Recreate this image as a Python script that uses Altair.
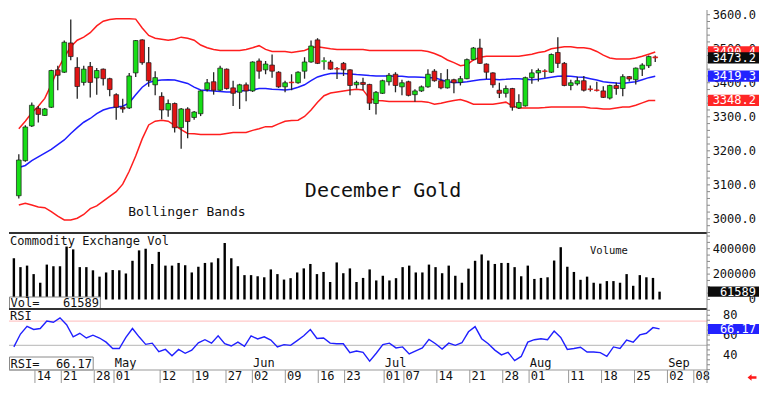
import altair as alt
import pandas as pd

# ---------------- data ----------------
open_ = [3068, 3171, 3273, 3325, 3304, 3328, 3438, 3431, 3517, 3445,
         3401, 3448, 3414, 3440, 3412, 3365, 3328, 3326, 3429, 3526,
         3459, 3394, 3360, 3320, 3339, 3268, 3323, 3298, 3309, 3380,
         3403, 3378, 3440, 3385, 3372, 3394, 3376, 3464, 3438, 3452,
         3431, 3388, 3402, 3400, 3434, 3461, 3526, 3462, 3461, 3442,
         3457, 3438, 3394, 3401, 3395, 3339, 3369, 3403, 3425, 3388,
         3403, 3365, 3376, 3388, 3434, 3406, 3385, 3409, 3401, 3412,
         3468, 3502, 3455, 3429, 3378, 3369, 3383, 3326, 3332, 3415,
         3429, 3435, 3431, 3489, 3457, 3392, 3397, 3406, 3382, 3379,
         3376, 3355, 3392, 3383, 3418, 3409, 3440, 3450, 3476]
high = [3190, 3275, 3342, 3332, 3326, 3438, 3450, 3524, 3586, 3475,
        3450, 3461, 3443, 3442, 3415, 3369, 3353, 3429, 3526, 3528,
        3505, 3434, 3372, 3351, 3342, 3326, 3328, 3317, 3378, 3411,
        3431, 3450, 3442, 3406, 3397, 3401, 3463, 3471, 3464, 3483,
        3434, 3406, 3425, 3434, 3475, 3524, 3531, 3475, 3467, 3446,
        3461, 3440, 3406, 3415, 3397, 3376, 3409, 3429, 3431, 3409,
        3406, 3381, 3392, 3440, 3440, 3429, 3440, 3412, 3420, 3471,
        3505, 3529, 3457, 3431, 3400, 3392, 3385, 3366, 3418, 3440,
        3442, 3440, 3486, 3534, 3461, 3409, 3418, 3420, 3392, 3403,
        3390, 3394, 3401, 3425, 3420, 3445, 3457, 3480, 3480]
low = [3060, 3168, 3270, 3283, 3302, 3326, 3378, 3429, 3466, 3353,
       3392, 3357, 3365, 3392, 3360, 3291, 3312, 3323, 3417, 3453,
       3388, 3363, 3293, 3300, 3254, 3206, 3237, 3291, 3302, 3374,
       3365, 3376, 3380, 3332, 3323, 3346, 3373, 3412, 3425, 3415,
       3385, 3372, 3378, 3397, 3412, 3459, 3455, 3438, 3438, 3411,
       3420, 3363, 3383, 3378, 3320, 3307, 3367, 3392, 3372, 3363,
       3360, 3344, 3373, 3385, 3403, 3381, 3383, 3369, 3392, 3410,
       3466, 3455, 3411, 3385, 3355, 3357, 3318, 3323, 3330, 3397,
       3404, 3415, 3429, 3443, 3390, 3378, 3392, 3374, 3374, 3374,
       3355, 3351, 3365, 3360, 3404, 3395, 3420, 3443, 3461]
close = [3173, 3270, 3334, 3307, 3323, 3436, 3422, 3519, 3477, 3389,
         3440, 3401, 3436, 3412, 3380, 3328, 3323, 3420, 3524, 3459,
         3406, 3415, 3320, 3339, 3268, 3323, 3286, 3314, 3376, 3400,
         3378, 3443, 3383, 3369, 3394, 3376, 3461, 3434, 3455, 3434,
         3388, 3400, 3400, 3431, 3461, 3508, 3457, 3465, 3440, 3440,
         3438, 3392, 3401, 3395, 3340, 3372, 3406, 3422, 3392, 3400,
         3363, 3376, 3388, 3425, 3406, 3385, 3409, 3400, 3412, 3468,
         3502, 3457, 3431, 3394, 3369, 3383, 3328, 3342, 3415, 3429,
         3436, 3433, 3483, 3457, 3392, 3400, 3406, 3378, 3380, 3377,
         3357, 3392, 3383, 3418, 3411, 3443, 3452, 3477, 3473.2]
volume = [325000, 255000, 267000, 200000, 132000, 275000, 262000, 262000, 417000, 395000,
          255000, 255000, 230000, 180000, 213000, 232000, 230000, 205000, 305000, 387000,
          400000, 280000, 375000, 267000, 267000, 288000, 270000, 213000, 258000, 288000,
          292000, 325000, 445000, 325000, 262000, 192000, 192000, 183000, 175000, 237000,
          200000, 157000, 168000, 213000, 245000, 280000, 200000, 217000, 138000, 292000,
          207000, 245000, 138000, 170000, 237000, 150000, 187000, 150000, 168000, 255000,
          267000, 213000, 213000, 275000, 255000, 207000, 267000, 187000, 132000, 243000,
          305000, 355000, 307000, 280000, 288000, 288000, 255000, 183000, 267000, 162000,
          170000, 175000, 307000, 412000, 258000, 217000, 155000, 180000, 132000, 125000,
          145000, 145000, 132000, 200000, 108000, 192000, 175000, 170000, 61589]
rsi = [48, 61, 68.8, 65.6, 66.6, 74.2, 72.9, 77.4, 70.4, 58.2,
       61.8, 57, 59.9, 57, 52.8, 46.4, 46.4, 57.6, 66.6, 58.2,
       50.6, 51.8, 43.2, 45.5, 39, 45.5, 41.6, 44.8, 52.2, 55.3,
       51.8, 59.2, 51.2, 48.9, 52.8, 48.6, 59.2, 56, 58.2, 55,
       48, 50.3, 49.6, 54.4, 59.2, 65.6, 56.6, 57, 51.8, 51.2,
       51.2, 42.2, 43.8, 42.6, 33.6, 41.6, 50.4, 51.8, 47, 48,
       41, 44.1, 47, 55.6, 51.2, 45.8, 51.8, 49.6, 52.2, 63.3,
       68.5, 56.3, 51.2, 44.8, 40, 42.6, 34.2, 38.4, 52.8, 55.3,
       56.3, 55.3, 64, 57.6, 45.5, 46.4, 47.7, 42.9, 42.9, 42.2,
       38.4, 48, 46.4, 55, 52.8, 60.1, 61.8, 67.5, 66.17]
bb_upper = [3265, 3287, 3312, 3331, 3354, 3395, 3439, 3475, 3506, 3525,
            3534, 3547, 3567, 3581, 3586, 3588, 3588, 3588, 3587, 3561,
            3539, 3531, 3528, 3525, 3528, 3534, 3531, 3525, 3511, 3503,
            3498, 3495, 3495, 3495, 3495, 3498, 3503, 3509, 3498, 3492,
            3492, 3492, 3489, 3492, 3495, 3503, 3506, 3503, 3500, 3498,
            3498, 3498, 3498, 3498, 3495, 3495, 3495, 3495, 3495, 3495,
            3495, 3495, 3495, 3492, 3486, 3478, 3467, 3459, 3450, 3453,
            3467, 3475, 3478, 3478, 3478, 3478, 3478, 3478, 3481, 3484,
            3489, 3492, 3500, 3503, 3506, 3506, 3503, 3503, 3500, 3492,
            3481, 3473, 3470, 3470, 3470, 3473, 3478, 3484, 3490.4]
bb_mid = [3151, 3157, 3171, 3182, 3193, 3204, 3218, 3232, 3251, 3268,
          3284, 3295, 3309, 3320, 3326, 3329, 3331, 3341, 3365, 3387,
          3401, 3406, 3408, 3409, 3408, 3403, 3398, 3387, 3379, 3377,
          3376, 3374, 3373, 3373, 3376, 3377, 3379, 3383, 3383, 3381,
          3380, 3379, 3381, 3387, 3394, 3406, 3417, 3423, 3427, 3428,
          3427, 3426, 3424, 3423, 3421, 3420, 3420, 3420, 3419, 3419,
          3417, 3417, 3416, 3415, 3415, 3409, 3403, 3401, 3401, 3403,
          3406, 3409, 3410, 3410, 3409, 3410, 3412, 3412, 3410, 3409,
          3410, 3413, 3416, 3419, 3420, 3419, 3417, 3416, 3412, 3408,
          3403, 3401, 3399, 3398, 3401, 3403, 3409, 3415, 3419.3]
bb_lower = [3041, 3046, 3041, 3035, 3033, 3021, 3008, 2997, 2997, 3002,
            3013, 3030, 3038, 3052, 3066, 3080, 3102, 3140, 3185, 3235,
            3276, 3287, 3290, 3287, 3275, 3262, 3251, 3250, 3248, 3248,
            3248, 3248, 3251, 3254, 3254, 3254, 3260, 3265, 3271, 3271,
            3279, 3287, 3289, 3290, 3301, 3320, 3343, 3362, 3370, 3373,
            3376, 3379, 3381, 3379, 3354, 3348, 3347, 3345, 3345, 3345,
            3345, 3345, 3345, 3343, 3337, 3340, 3344, 3348, 3351, 3345,
            3337, 3337, 3337, 3337, 3340, 3343, 3332, 3326, 3326, 3326,
            3326, 3327, 3329, 3329, 3329, 3329, 3329, 3329, 3326, 3325,
            3323, 3323, 3326, 3329, 3329, 3334, 3341, 3348, 3348.2]

tick_pos = [3, 7, 12, 15, 22, 27, 32, 36, 41, 46, 50, 56, 59, 64, 69, 74, 78, 84, 89, 94, 99, 103]
tick_lbl = ["14", "21", "28", "01", "12", "19", "27", "02", "09", "16", "23",
            "01", "07", "14", "21", "28", "01", "11", "18", "25", "02", "08"]
month_pos = [15, 36, 56, 78, 99]
month_lbl = ["May", "Jun", "Jul", "Aug", "Sep"]
price_ticks = list(range(2960, 3601, 20))
price_labels = [3000, 3100, 3200, 3300, 3400, 3500, 3600]
vol_ticks = list(range(0, 500001, 50000))
vol_labels = [0, 200000, 400000]
rsi_ticks = list(range(25, 86, 5))
rsi_labels = [40, 60, 80]
rsi_levels = [74, 49.5]

# ---------------- layout / style ----------------
W, H1, H2, H3 = 698, 223, 76, 61
MONO = "DejaVu Sans Mono"
AXC = "#8a8a8a"
X_DOM = [-0.74, 105.2]
P_DOM = [2958.5, 3613.8]
V_DOM = [-75000, 524000]
R_DOM = [24.7, 86.3]
GREEN, RED = "#17dd17", "#e01414"
BAND_RED, BAND_BLUE = "#ff1e1e", "#1e1eff"
BOX_RED, BOX_BLUE, BOX_BLACK = "#ff2626", "#2222ff", "#0c0c0c"

n = len(close)
df = pd.DataFrame({"i": list(range(n)), "o": open_, "h": high, "l": low, "c": close,
                   "v": volume, "rsi": rsi, "bu": bb_upper, "bm": bb_mid, "bl": bb_lower})
df["fill"] = [GREEN if c >= o else RED for o, c in zip(open_, close)]
df["edge"] = [f if abs(c - o) < 4 else "#1a1a1a" for f, o, c in zip(df["fill"], open_, close)]

xsc = alt.Scale(domain=X_DOM, nice=False, zero=False)
psc = alt.Scale(domain=P_DOM, nice=False, zero=False)
vsc = alt.Scale(domain=V_DOM, nice=False, zero=False)
rsc = alt.Scale(domain=R_DOM, nice=False, zero=False)
one = pd.DataFrame({"z": [0]})
XN = alt.X("i:Q", scale=xsc, axis=None)


def right_axis(ticks, labels, fmt, sc, h, align, lx, ext=0):
    dom = alt.Chart(one).mark_rule(color=AXC, strokeWidth=1).encode(
        x=alt.value(W), y=alt.value(0), y2=alt.value(h + ext))
    tk = alt.Chart(pd.DataFrame({"tv": ticks})).mark_rule(color=AXC, strokeWidth=1).encode(
        x=alt.value(W), x2=alt.value(W + 3), y=alt.Y("tv:Q", scale=sc, axis=None))
    ldf = pd.DataFrame({"tv": labels, "tl": [fmt(v) for v in labels]})
    lb = alt.Chart(ldf).mark_text(font=MONO, fontSize=12, align=align, baseline="middle",
                                  color="#111111").encode(
        x=alt.value(lx), y=alt.Y("tv:Q", scale=sc, axis=None), text="tl:N")
    return [dom, tk, lb]


def right_box(val, lbl, color, sc, half_px, dom, h):
    half = half_px * (dom[1] - dom[0]) / h
    d = pd.DataFrame({"val": [val], "b0": [val - half], "b1": [val + half], "lbl": [lbl]})
    r = alt.Chart(d).mark_rect(color=color).encode(
        x=alt.value(W + 1), x2=alt.value(W + 52),
        y=alt.Y("b0:Q", scale=sc, axis=None), y2="b1:Q")
    t = alt.Chart(d).mark_text(align="right", baseline="middle", font=MONO, fontSize=12,
                               color="white").encode(
        x=alt.value(W + 49), y=alt.Y("val:Q", scale=sc, axis=None), text="lbl:N")
    return [r, t]


def sep(h):
    return alt.Chart(one).mark_rule(color="#333333", strokeWidth=2).encode(
        x=alt.value(0), x2=alt.value(W), y=alt.value(h))


def label(txt, x, y, size=12, align="left"):
    return alt.Chart(one).mark_text(text=txt, font=MONO, fontSize=size, align=align,
                                    baseline="middle", color="#111111").encode(
        x=alt.value(x), y=alt.value(y))


# ---------------- price panel ----------------
band_u = alt.Chart(df).mark_line(color=BAND_RED, strokeWidth=1.5).encode(
    x=XN, y=alt.Y("bu:Q", scale=psc, axis=None))
band_m = alt.Chart(df).mark_line(color=BAND_BLUE, strokeWidth=1.5).encode(
    x=XN, y=alt.Y("bm:Q", scale=psc, axis=None))
band_l = alt.Chart(df).mark_line(color=BAND_RED, strokeWidth=1.5).encode(
    x=XN, y=alt.Y("bl:Q", scale=psc, axis=None))
wicks = alt.Chart(df).mark_rule(color="#262626", strokeWidth=1.3).encode(
    x=XN, y=alt.Y("l:Q", scale=psc, axis=None), y2="h:Q")
bodies = alt.Chart(df).mark_bar(size=4.7, strokeWidth=0.7).encode(
    x=XN, y=alt.Y("o:Q", scale=psc, axis=None), y2="c:Q",
    fill=alt.Fill("fill:N", scale=None), stroke=alt.Stroke("edge:N", scale=None))

ann1 = pd.DataFrame({"i": [56.1], "p": [3065.0], "t": ["December Gold"]})
ann2 = pd.DataFrame({"i": [16.84], "p": [3007.5], "t": ["Bollinger Bands"]})
title1 = alt.Chart(ann1).mark_text(font=MONO, fontSize=20, align="center", baseline="alphabetic",
                                   color="#111111").encode(
    x=alt.X("i:Q", scale=xsc, axis=None), y=alt.Y("p:Q", scale=psc, axis=None), text="t:N")
title2 = alt.Chart(ann2).mark_text(font=MONO, fontSize=13, align="left", baseline="alphabetic",
                                   color="#111111").encode(
    x=alt.X("i:Q", scale=xsc, axis=None), y=alt.Y("p:Q", scale=psc, axis=None), text="t:N")

pboxes = []
for val, col in [(bb_upper[-1], BOX_RED), (close[-1], BOX_BLACK),
                 (bb_mid[-1], BOX_BLUE), (bb_lower[-1], BOX_RED)]:
    pboxes += right_box(val, f"{val:.1f}", col, psc, 5.65, P_DOM, H1)

price = alt.layer(
    band_u, band_m, band_l, wicks, bodies, title1, title2, sep(H1),
    *right_axis(price_ticks, price_labels, lambda v: f"{v:.1f}", psc, H1, "right", W + 49),
    *pboxes,
).properties(width=W, height=H1)

# ---------------- volume panel ----------------
vbars = alt.Chart(df).mark_rule(color="black", strokeWidth=2.4).encode(
    x=XN, y=alt.Y("v:Q", scale=vsc, axis=None), y2=alt.datum(0))
vbox = alt.Chart(one).mark_rect(fill="white", stroke=AXC, strokeWidth=1).encode(
    x=alt.value(0.5), x2=alt.value(91.3), y=alt.value(64), y2=alt.value(H2))
vol = alt.layer(
    vbars,
    label("Commodity Exchange Vol", 1, 7.5),
    label("Volume", 581, 18, size=10.5),
    vbox,
    label("Vol=", 1.5, 70.3),
    label(str(volume[-1]), 90, 70.3, align="right"),
    sep(H2),
    *right_axis(vol_ticks, vol_labels, lambda v: str(v), vsc, H2, "right", W + 49),
    *right_box(volume[-1], str(volume[-1]), BOX_BLACK, vsc, 5.1, V_DOM, H2),
).properties(width=W, height=H2)

# ---------------- RSI panel ----------------
pink = alt.Chart(one).mark_rule(color="#ffc8c8", strokeWidth=1.2).encode(
    x=alt.value(0), x2=alt.value(W), y=alt.Y(datum=rsi_levels[0], scale=rsc, axis=None))
gray = alt.Chart(one).mark_rule(color="#c4c4c4", strokeWidth=1.2).encode(
    x=alt.value(0), x2=alt.value(W), y=alt.Y(datum=rsi_levels[1], scale=rsc, axis=None))
rline = alt.Chart(df).mark_line(color="#2020ff", strokeWidth=1.4).encode(
    x=XN, y=alt.Y("rsi:Q", scale=rsc, axis=None))
dfm = pd.DataFrame({"m": [p + 0.3 for p in month_pos], "t": month_lbl})
months = alt.Chart(dfm).mark_text(font=MONO, fontSize=12, align="left", baseline="alphabetic",
                                  color="#111111").encode(
    x=alt.X("m:Q", scale=xsc, axis=None), y=alt.value(57.5), text="t:N")
rbox = alt.Chart(one).mark_rect(fill="white", stroke=AXC, strokeWidth=1).encode(
    x=alt.value(0.5), x2=alt.value(84.2), y=alt.value(48), y2=alt.value(H3))

# date axis below the RSI panel
dtick = pd.DataFrame({"tp": tick_pos, "tl": tick_lbl})
x_dom_line = alt.Chart(one).mark_rule(color="#999999", strokeWidth=1).encode(
    x=alt.value(0), x2=alt.value(W), y=alt.value(H3))
x_ticks = alt.Chart(dtick).mark_rule(color="#999999", strokeWidth=1, xOffset=1.3).encode(
    x=alt.X("tp:Q", scale=xsc, axis=None), y=alt.value(H3), y2=alt.value(H3 + 13))
x_labels = alt.Chart(dtick).mark_text(font=MONO, fontSize=12, align="left", baseline="top",
                                      dx=3, color="#111111").encode(
    x=alt.X("tp:Q", scale=xsc, axis=None), y=alt.value(H3 + 1), text="tl:N")

arrow = alt.Chart(one).mark_point(
    shape="M-1,0 L-0.1,-0.75 L-0.1,-0.3 L1,-0.3 L1,0.3 L-0.1,0.3 L-0.1,0.75 Z",
    size=80, filled=True, color="#ff1a1a", opacity=1).encode(
    x=alt.value(W + 45), y=alt.value(H3 + 7.5))

rsi_panel = alt.layer(
    pink, gray, rline, months,
    label("RSI", 1, 7),
    rbox,
    label("RSI=", 1.5, 55),
    label(f"{rsi[-1]:.2f}", 83, 55, align="right"),
    x_dom_line, x_ticks, x_labels,
    *right_axis(rsi_ticks, rsi_labels, lambda v: str(v), rsc, H3, "left", W + 16, ext=13),
    *right_box(rsi[-1], f"{rsi[-1]:.2f}", BOX_BLUE, rsc, 5.0, R_DOM, H3),
    arrow,
).properties(width=W, height=H3)

chart = alt.vconcat(price, vol, rsi_panel, spacing=0, bounds="flush").properties(
    padding=0, background="white").configure_view(stroke=None)

chart.save("out.html", embed_options={"renderer": "svg", "actions": False})
